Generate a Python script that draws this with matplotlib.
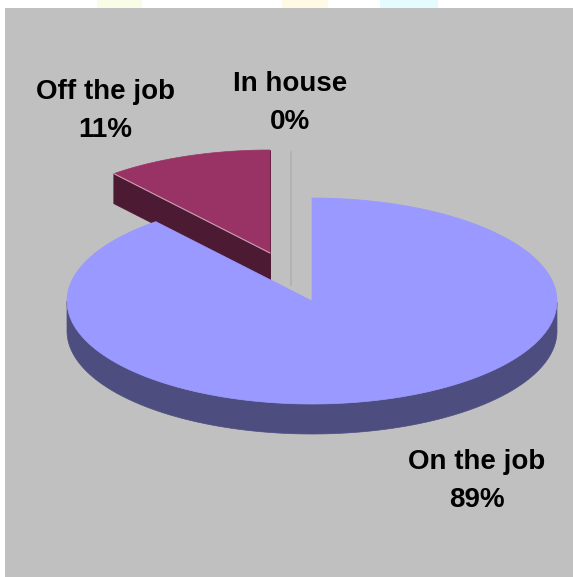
import numpy as np
import matplotlib.pyplot as plt
from matplotlib.patches import Polygon, Rectangle

# ---- data ----
labels = ['On the job', 'Off the job', 'In house']
shares = [89, 11, 0]          # percent
top_colors = ['#9999ff', '#993366', '#bcbcbc']
side_colors = ['#4d4d80', '#4d1a33', '#b0b0b0']

# ---- layout (pixels, y down) ----
W, H = 573, 577
cx, cy = 312, 301        # centre of the un-exploded pie
a, b = 245, 103          # ellipse half axes
depth = 30
offsets = [(0, 0), (-42, -48), (-21, -46)]   # explode shift per slice
label_pos = [(477, 481), (105, 111), (290, 103)]
bg = '#c0c0c0'

fig = plt.figure(figsize=(W / 100, H / 100), dpi=100)
ax = fig.add_axes([0, 0, 1, 1])
ax.set_xlim(0, W)
ax.set_ylim(H, 0)
ax.axis('off')

# chart area + faint artefacts in the top strip
ax.add_patch(Rectangle((5, 8), W + 20, H + 20, color=bg, zorder=0, lw=0, clip_on=False))
for x0, x1, c in [(97, 142, '#f9fce6'), (282, 328, '#fffae4'), (380, 438, '#e4fcff')]:
    ax.add_patch(Rectangle((x0, 0), x1 - x0, 8, color=c, zorder=0, lw=0))


def pt(theta, ox, oy, dz=0):
    return (cx + ox + a * np.cos(theta), cy + oy - b * np.sin(theta) + dz)


# slice angles: start at 12 o'clock, go clockwise
angles = []
start = 90.0
for s in shares:
    end = start - 360.0 * s / 100
    angles.append((start, end))
    start = end

# draw back slices first, the big one last
for i in [2, 1, 0]:
    st, en = np.radians(angles[i][0]), np.radians(angles[i][1])
    ox, oy = offsets[i]
    c0 = (cx + ox, cy + oy)
    if shares[i] == 0:
        ax.plot([c0[0], c0[0]], [c0[1] - b, c0[1] + depth], color=side_colors[i], lw=1.2, zorder=2)
        continue
    th = np.linspace(st, en, 400)
    # outer rim, front half only
    front = th[np.sin(th) <= 0]
    if len(front) > 1:
        rim_top = [pt(t, ox, oy) for t in front]
        rim_bot = [pt(t, ox, oy, depth) for t in front[::-1]]
        ax.add_patch(Polygon(rim_top + rim_bot, closed=True, fc=side_colors[i], ec=side_colors[i], lw=0.5, zorder=3))
    # radial cut faces that point towards the viewer
    for t in (st, en):
        p = pt(t, ox, oy)
        if shares[i] < 50:
            face = [c0, p, (p[0], p[1] + depth), (c0[0], c0[1] + depth)]
            ax.add_patch(Polygon(face, closed=True, fc=side_colors[i], ec=side_colors[i], lw=0.5, zorder=3))
    # top surface
    top = [c0] + [pt(t, ox, oy) for t in th]
    ax.add_patch(Polygon(top, closed=True, fc=top_colors[i], ec=top_colors[i], lw=0.5, zorder=4))
    if shares[i] < 50:
        p = pt(st if np.sin(st) < np.sin(en) else en, ox, oy)
        ax.plot([c0[0], p[0]], [c0[1], p[1]], color='#c9a0b4', lw=0.8, zorder=5)

for lab, s, (x, y) in zip(labels, shares, label_pos):
    ax.text(x, y, f'{lab}\n{s}%', ha='center', va='center', fontsize=20,
            fontweight='bold', family='Liberation Sans', linespacing=1.6, zorder=6)

fig.savefig('out.png', dpi=100)
